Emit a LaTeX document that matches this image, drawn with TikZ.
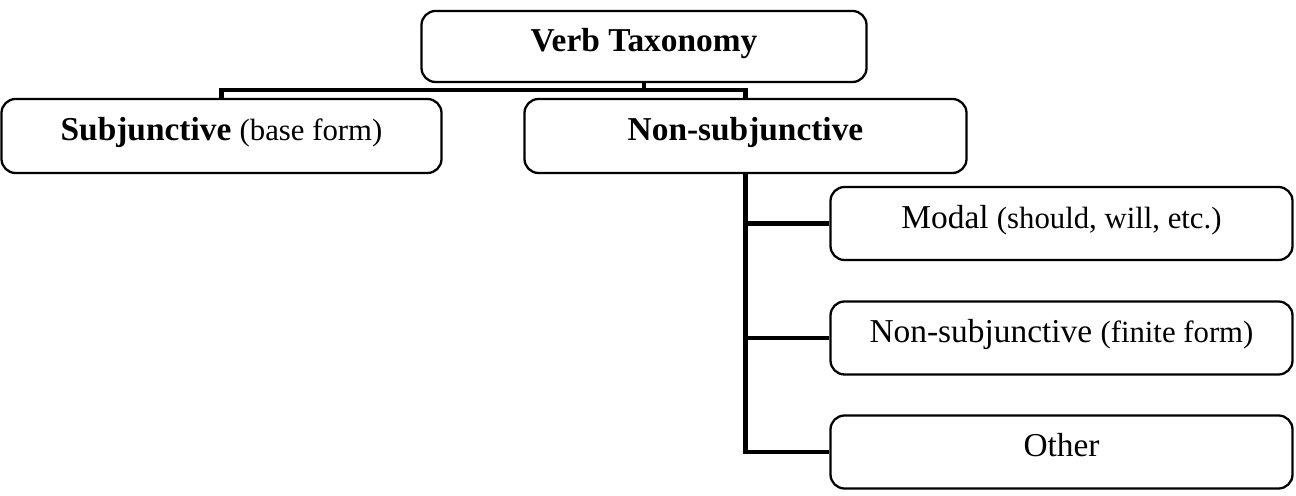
\documentclass[tikz,border=0pt]{standalone}
\usepackage{fontspec}
\setmainfont{Liberation Serif}
\usetikzlibrary{positioning}
\newcommand{\formnote}[1]{{\fontsize{17.5}{21}\selectfont(#1)}}

\begin{document}
\begin{tikzpicture}[x=1cm,y=1cm, every node/.style={font=\fontsize{19}{23}\selectfont},
    box/.style={draw, rounded corners=0.28cm, line width=1.3pt, text height=0.4cm, text depth=0.2cm},
    link/.style={line width=2.8pt}]
    \useasboundingbox (0,0) rectangle (25.92,9.9);
    % top level
    \node[box, minimum width=8.9cm, minimum height=1.42cm] (verb) at (12.88,8.97) {\textbf{Verb Taxonomy}};
    \node[box, minimum width=8.8cm, minimum height=1.48cm] (subj) at (4.43,7.18) {\textbf{Subjunctive} \formnote{base form}};
    \node[box, minimum width=8.84cm, minimum height=1.48cm] (nonsubj) at (14.91,7.18) {\textbf{Non-subjunctive}};
    % sub-types of non-subjunctive
    \node[box, minimum width=9.24cm, minimum height=1.46cm] (modal) at (21.23,5.43) {Modal \formnote{should, will, etc.}};
    \node[box, minimum width=9.24cm, minimum height=1.46cm] (finite) at (21.23,3.14) {Non-subjunctive \formnote{finite form}};
    \node[box, minimum width=9.24cm, minimum height=1.46cm] (other) at (21.23,0.86) {Other};
    \coordinate (bus) at (12.88,8.1);
    \draw[link] (verb.south) -- (bus);
    \draw[link] (subj.north) |- (bus) -| (nonsubj.north);
    \foreach \n in {modal,finite,other}
        \draw[link] (nonsubj.south) |- (\n.west);
\end{tikzpicture}
\end{document}
